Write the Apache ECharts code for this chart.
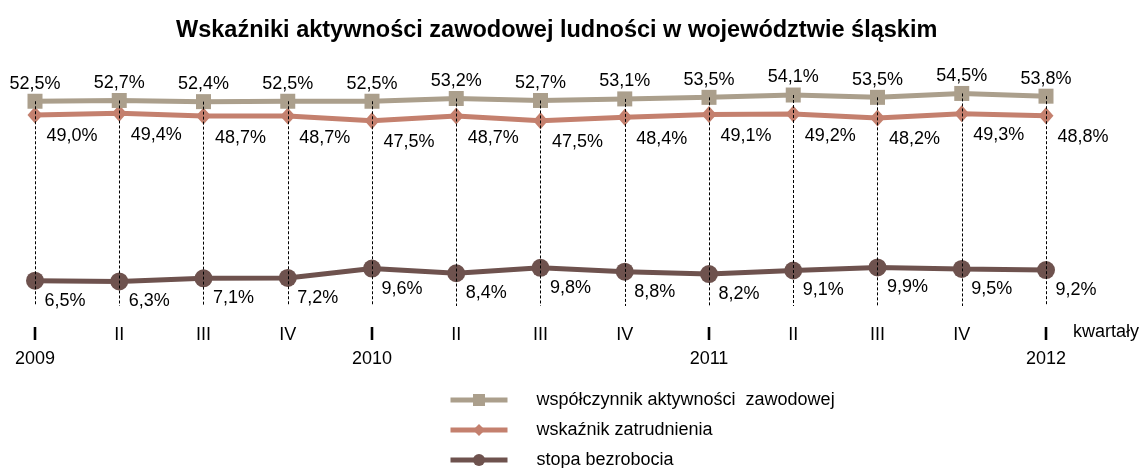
<!DOCTYPE html>
<html>
<head>
<meta charset="utf-8">
<script src="https://cdn.jsdelivr.net/npm/echarts@6.0.0/dist/echarts.min.js"></script>
<style>
html, body { margin: 0; padding: 0; background: #fff; }
#chart { width: 1142px; height: 468px; }
</style>
</head>
<body>
<div id="chart"></div>
<script>
// kwartały i lata
var quarters = ['I', 'II', 'III', 'IV', 'I', 'II', 'III', 'IV', 'I', 'II', 'III', 'IV', 'I']
var years = ['2009', '', '', '', '2010', '', '', '', '2011', '', '', '', '2012']

// wartości w %
var aktywnosc = [52.5, 52.7, 52.4, 52.5, 52.5, 53.2, 52.7, 53.1, 53.5, 54.1, 53.5, 54.5, 53.8]
var zatrudnienie = [49.0, 49.4, 48.7, 48.7, 47.5, 48.7, 47.5, 48.4, 49.1, 49.2, 48.2, 49.3, 48.8]
var bezrobocie = [6.5, 6.3, 7.1, 7.2, 9.6, 8.4, 9.8, 8.8, 8.2, 9.1, 9.9, 9.5, 9.2]

var categories = quarters.map(function (q, i) {
    return years[i] ? q + '\n' + years[i] : q
})

function pct(p) {
    return p.value.toFixed(1).replace('.', ',') + '%'
}

var font = 'Arial, "Liberation Sans", sans-serif'

var chart = echarts.init(document.getElementById('chart'))
chart.setOption({
    animation: false,
    textStyle: { fontFamily: font },
    title: {
        text: 'Wskaźniki aktywności zawodowej ludności w województwie śląskim',
        left: 176,
        top: 19,
        padding: 0,
        textStyle: { fontFamily: font, fontSize: 23.5, fontWeight: 'bold', color: '#000' }
    },
    legend: {
        orient: 'vertical',
        left: 448,
        top: 391,
        height: 90,
        padding: 0,
        itemWidth: 57,
        itemHeight: 15,
        itemGap: 12,
        lineStyle: { width: 5 },
        textStyle: { fontFamily: font, fontSize: 18, color: '#000', padding: [0, 0, 0, 24] },
        data: ['współczynnik aktywności  zawodowej', 'wskaźnik zatrudnienia', 'stopa bezrobocia']
    },
    grid: {
        left: 35,
        right: 96,
        top: 72,
        bottom: 162,
        containLabel: false
    },
    xAxis: {
        type: 'category',
        boundaryGap: false,
        data: categories,
        axisLine: { show: false },
        axisTick: { show: false },
        axisLabel: {
            interval: 0,
            margin: 17,
            formatter: function (value) {
                var parts = value.split('\n')
                if (parts.length > 1) {
                    return '{b|' + parts[0] + '}\n{y|' + parts[1] + '}'
                }
                return '{n|' + value + '}'
            },
            rich: {
                b: { fontFamily: font, fontSize: 18, fontWeight: 'bold', color: '#000', lineHeight: 24 },
                n: { fontFamily: font, fontSize: 18, color: '#000', lineHeight: 24 },
                y: { fontFamily: font, fontSize: 18, color: '#000', lineHeight: 24 }
            }
        }
    },
    yAxis: {
        type: 'value',
        min: 0,
        max: 60,
        show: false
    },
    graphic: [
        {
            type: 'text',
            left: 1073,
            top: 323,
            style: { text: 'kwartały', font: '18px ' + font, fill: '#000' }
        }
    ],
    series: [
        {
            name: 'współczynnik aktywności  zawodowej',
            type: 'line',
            data: aktywnosc,
            symbol: 'rect',
            symbolSize: 15,
            color: '#ab9f8c',
            lineStyle: { width: 5, color: '#ab9f8c' },
            label: {
                show: true,
                position: 'top',
                distance: 1,
                formatter: pct,
                fontFamily: font,
                fontSize: 18,
                color: '#000'
            },
            markLine: {
                silent: true,
                symbol: 'none',
                label: { show: false },
                lineStyle: { color: '#000', width: 1, type: [3, 2] },
                data: aktywnosc.map(function (v, i) {
                    return [{ coord: [i, v] }, { coord: [i, 0] }]
                })
            },
            z: 3
        },
        {
            name: 'wskaźnik zatrudnienia',
            type: 'line',
            data: zatrudnienie,
            symbol: 'diamond',
            symbolSize: [15, 17],
            color: '#c4806e',
            lineStyle: { width: 5, color: '#c4806e' },
            label: {
                show: true,
                position: 'bottom',
                distance: 4,
                offset: [37, 0],
                formatter: pct,
                fontFamily: font,
                fontSize: 18,
                color: '#000'
            },
            z: 2
        },
        {
            name: 'stopa bezrobocia',
            type: 'line',
            data: bezrobocie,
            symbol: 'circle',
            symbolSize: 18,
            color: '#6e524e',
            lineStyle: { width: 5, color: '#6e524e' },
            label: {
                show: true,
                position: 'bottom',
                distance: 2,
                offset: [30, 0],
                formatter: pct,
                fontFamily: font,
                fontSize: 18,
                color: '#000'
            },
            z: 2
        }
    ]
})
</script>
</body>
</html>
